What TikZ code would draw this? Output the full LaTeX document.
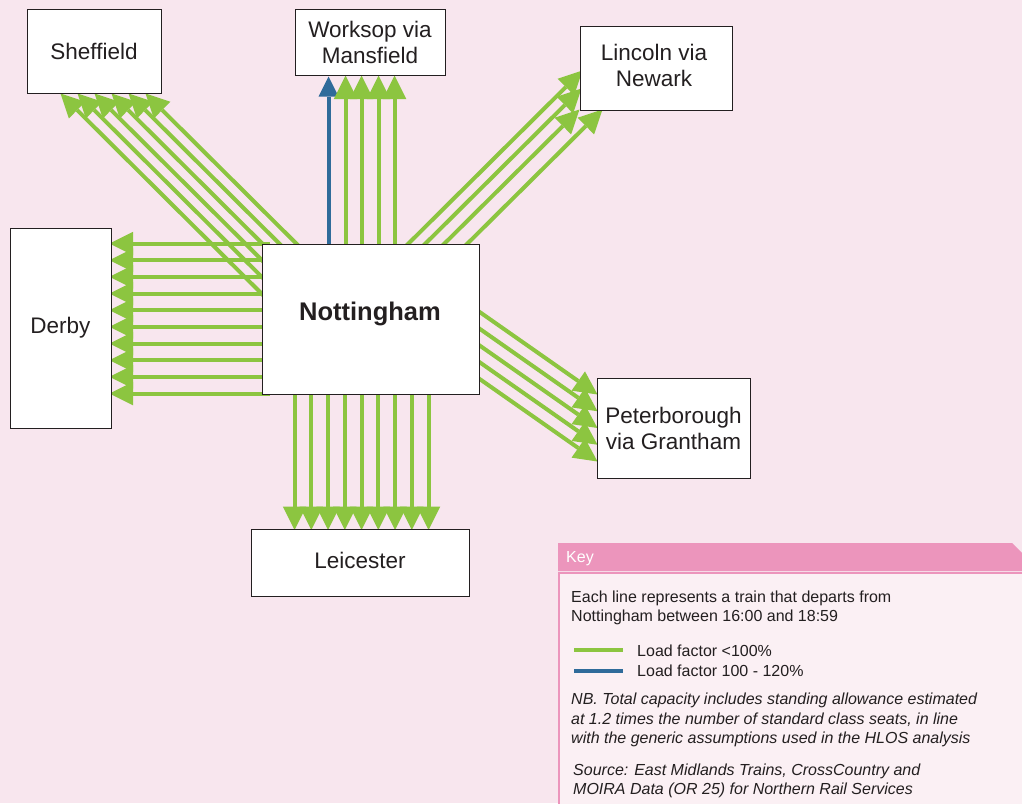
\documentclass[tikz,border=0pt]{standalone}
\usepackage{fontspec}
\setmainfont{Liberation Sans}
\usetikzlibrary{arrows.meta,calc,backgrounds}
\definecolor{bgpink}{HTML}{F8E6EE}
\definecolor{keyhead}{HTML}{EC95BC}
\definecolor{keybody}{HTML}{FBF0F4}
\definecolor{lgreen}{HTML}{8CC540}
\definecolor{lblue}{HTML}{2F6B9A}
\definecolor{txt}{HTML}{231F20}
\definecolor{boxline}{HTML}{231F20}
\newcommand\bxfont{\fontsize{22.5}{26}\selectfont}
\newcommand\kyfont{\fontsize{16}{19}\selectfont}
\begin{document}
\begin{tikzpicture}[x=1pt,y=-1pt,
  box/.style={draw=boxline,line width=1pt,fill=white,rectangle,inner sep=0pt,align=center,font=\bxfont,text=txt},
  boxlabel/.style={align=center,font=\bxfont,text=txt,inner sep=0pt},
  g/.style={draw=lgreen,line width=4pt,-{Triangle[length=23.5pt,width=23.5pt,line width=0pt]}},
  b/.style={draw=lblue,line width=4pt,-{Triangle[length=20pt,width=20pt,line width=0pt]}},
  keytxt/.style={anchor=base west,inner sep=0pt,font=\kyfont,text=txt},
  legline/.style={line width=4.5pt}]
\useasboundingbox (0,0) rectangle (1022,803);
% destination boxes
\node[box,minimum width=134pt,minimum height=84pt] (sheff) at (94,51) {Sheffield};
\node[box,minimum width=150pt,minimum height=66pt] (work) at (370,42) {Worksop via\\Mansfield};
\node[box,minimum width=152pt,minimum height=84pt,
  label={[boxlabel,yshift=3pt,xshift=-2pt]center:Lincoln via\\Newark}] (linc) at (656,68) {};
\node[box,minimum width=101pt,minimum height=200pt] (derby) at (60.5,328) {Derby};
\node[box,minimum width=217pt,minimum height=150pt] (nott) at (370.5,319) {};
\node[font=\fontsize{25.5}{30}\selectfont\bfseries,text=txt,inner sep=0pt] (notttxt) at (370,314) {Nottingham};
\node[box,minimum width=153pt,minimum height=100pt] (peter) at (673.5,428) {Peterborough\\via Grantham};
\node[box,minimum width=218pt,minimum height=67pt,
  label={[boxlabel,yshift=2pt]center:Leicester}] (leic) at (360,562.5) {};
% connectors
\begin{scope}[on background layer]
\fill[bgpink] (0,0) rectangle (1022,803);
% Sheffield
\foreach \i in {0,...,5}{
  \draw[g] ($(nott.north west)+(6+17*\i,56)$) -- ($(sheff.south west)+(34+17*\i,0)$);
}
% Worksop
\draw[b] ($(nott.north west)+(67,10)$) -- ($(work.south west)+(34,1)$);
\foreach \dx in {51,67,84,100}{
  \draw[g] ($(nott.north west)+(\dx+33,10)$) -- ($(work.south west)+(\dx,0)$);
}
% Lincoln
\draw[g] ($(nott.north west)+(141,6)$) -- ($(linc.south west)+(3,-40)$);
\draw[g] ($(nott.north west)+(158,6)$) -- ($(linc.south west)+(2,-22)$);
\draw[g] ($(nott.north west)+(177,6)$) -- ($(linc.south west)+(0,-1)$);
\draw[g] ($(nott.north west)+(200,6)$) -- ($(linc.south west)+(23,-1)$);
% Derby
\foreach \i in {0,...,9}{
  \draw[g] ($(nott.north west)+(8,16.667*\i)$) -- ($(derby.north east)+(-2,16+16.667*\i)$);
}
% Peterborough
\foreach \i in {0,...,4}{
  \draw[g] ($(nott.north west)+(208,61.4+16.75*\i)$) -- ($(peter.north west)+(1,17+16.75*\i)$);
}
% Leicester
\foreach \i in {0,...,8}{
  \draw[g] ($(nott.north west)+(33+16.75*\i,144)$) -- ($(leic.north west)+(44+16.75*\i,1.5)$);
}
\end{scope}
% key
\fill[keyhead] (558,543) -- (1012,543) -- (1022,553) -- (1022,571) -- (558,571) -- cycle;
\draw[keyhead,fill=keybody,line width=1.5pt] (559,573) rectangle (1023,805);
\node[keytxt,text=white] (keyt) at (566,562) {Key};
\node[keytxt] (k1) at (571,602) {Each line represents a train that departs from};
\node[keytxt] (k2) at (571,621) {Nottingham between 16:00 and 18:59};
\draw[lgreen,legline] (574,650) -- (623,650);
\draw[lblue,legline] (574,671) -- (623,671);
\node[keytxt] (l1) at (637,656) {Load factor <100\%};
\node[keytxt] (l2) at (637,676) {Load factor 100 - 120\%};
\node[keytxt,font=\kyfont\itshape] (n1) at (571,704) {NB. Total capacity includes standing allowance estimated};
\node[keytxt,font=\kyfont\itshape] (n2) at (571,724) {at 1.2 times the number of standard class seats, in line};
\node[keytxt,font=\kyfont\itshape] (n3) at (571,743) {with the generic assumptions used in the HLOS analysis};
\node[keytxt,font=\kyfont\itshape] (s1) at (573,775) {Source: East Midlands Trains, CrossCountry and};
\node[keytxt,font=\kyfont\itshape] (s2) at (573,794) {MOIRA Data (OR 25) for Northern Rail Services};
\end{tikzpicture}
\end{document}
